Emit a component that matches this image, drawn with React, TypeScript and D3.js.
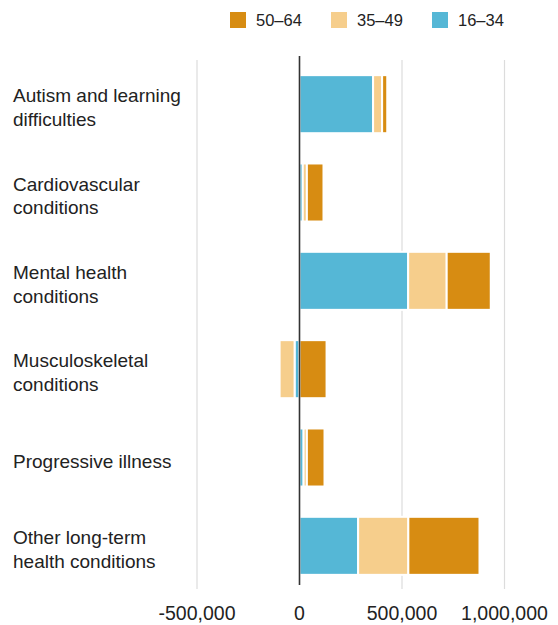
import React from "react";
import * as d3 from "d3";

const categories = [
  "Autism and learning difficulties",
  "Cardiovascular conditions",
  "Mental health conditions",
  "Musculoskeletal conditions",
  "Progressive illness",
  "Other long-term health conditions",
];
const labelLines = [
  ["Autism and learning", "difficulties"],
  ["Cardiovascular", "conditions"],
  ["Mental health", "conditions"],
  ["Musculoskeletal", "conditions"],
  ["Progressive illness"],
  ["Other long-term", "health conditions"],
];
const age16to34 = [359000, 16000, 530000, -24000, 20000, 286000];
const age35to49 = [44000, 20000, 188000, -73000, 16000, 245000];
const age50to64 = [25000, 81000, 215000, 132000, 86000, 347000];
const seriesKeys = ["16–34", "35–49", "50–64"];
const seriesColors = ["#55b7d6", "#f6ce8c", "#d78c12"];
const legendOrder = ["50–64", "35–49", "16–34"];
const tickValues = [-500000, 0, 500000, 1000000];

const W = 558;
const H = 625;
const FONT = "'Liberation Sans', Arial, Helvetica, sans-serif";

export default function App() {
  const rows = categories.map((c, i) => ({
    category: c,
    "16–34": age16to34[i],
    "35–49": age35to49[i],
    "50–64": age50to64[i],
  }));
  const stack = d3
    .stack<any>()
    .keys(seriesKeys)
    .offset(d3.stackOffsetDiverging);
  const series = stack(rows);

  const x = d3.scaleLinear().domain([-500000, 1000000]).range([197, 504.5]);
  const y = d3
    .scaleBand<string>()
    .domain(categories)
    .range([60, 590])
    .paddingInner(0.343)
    .paddingOuter(0.1715);
  const fmt = (v: number) => d3.format(",")(v).replace("\u2212", "-");
  const colorOf = d3.scaleOrdinal<string, string>().domain(seriesKeys).range(seriesColors);

  return (
    <svg
      width={W}
      height={H}
      style={{ position: "absolute", left: 0, top: 0, fontFamily: FONT }}
    >
      <rect width={W} height={H} fill="#fff" />
      {/* gridlines */}
      {tickValues
        .filter((t) => t !== 0)
        .map((t) => (
          <line
            key={t}
            x1={x(t)}
            x2={x(t)}
            y1={60}
            y2={589}
            stroke="#dcdcdc"
            strokeWidth={1.2}
          />
        ))}
      {/* bars */}
      {series.map((s) => (
        <g key={s.key} fill={colorOf(s.key)}>
          {s.map((d, i) => {
            const x0 = Math.min(x(d[0]), x(d[1]));
            const x1 = Math.max(x(d[0]), x(d[1]));
            return (
              <rect
                key={i}
                x={x0}
                y={y(categories[i])}
                width={x1 - x0}
                height={y.bandwidth()}
                stroke="#fff"
                strokeWidth={2}
              />
            );
          })}
        </g>
      ))}
      {/* zero line */}
      <line x1={x(0)} x2={x(0)} y1={56} y2={585} stroke="#333" strokeWidth={1.6} />
      {/* tick labels */}
      {tickValues.map((t) => (
        <text
          key={t}
          x={x(t)}
          y={619.5}
          textAnchor="middle"
          fontSize={19.5}
          fill="#222"
        >
          {fmt(t)}
        </text>
      ))}
      {/* category labels */}
      {categories.map((c, i) => {
        const lines = labelLines[i];
        const cy = (y(c) as number) + y.bandwidth() / 2;
        const lh = 23.5;
        const first = cy + 10 - ((lines.length - 1) * lh) / 2;
        return (
          <text key={c} x={13} fontSize={19} fill="#222">
            {lines.map((l, j) => (
              <tspan key={j} x={13} y={first + j * lh}>
                {l}
              </tspan>
            ))}
          </text>
        );
      })}
      {/* legend */}
      {legendOrder.map((k, i) => {
        const lx = 230 + i * 101;
        return (
          <g key={k}>
            <rect x={lx} y={12} width={16} height={16} fill={colorOf(k)} />
            <text x={lx + 26} y={26} fontSize={16.5} fill="#222">
              {k}
            </text>
          </g>
        );
      })}
    </svg>
  );
}
